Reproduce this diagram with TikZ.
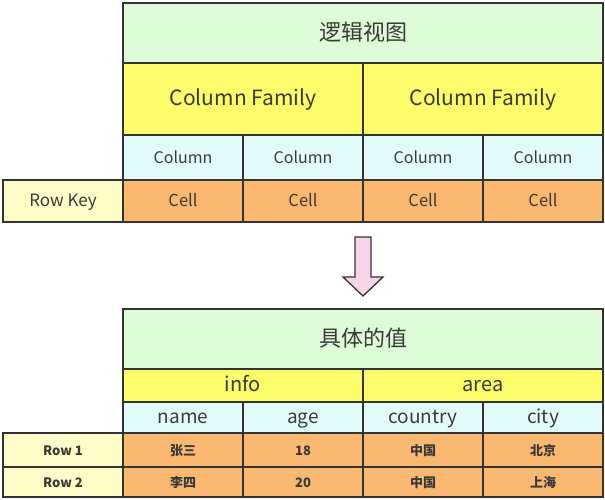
\documentclass[tikz,border=0pt]{standalone}
\usepackage{fontspec}
\setmainfont{Noto Sans CJK SC}
\usepackage{xcolor}
\usepackage{tikz}
\usetikzlibrary{calc}
\usetikzlibrary{positioning}
\definecolor{linec}{HTML}{333333}
\definecolor{textc}{HTML}{3A3A3A}
\definecolor{headg}{HTML}{DCFBD6}
\definecolor{famy}{HTML}{FDFC6A}
\definecolor{colc}{HTML}{E2FCFC}
\definecolor{cello}{HTML}{FBB870}
\definecolor{keyy}{HTML}{FEFDC8}
\definecolor{arrp}{HTML}{F9D3EA}
\tikzstyle{box} = [draw = linec, line width = 1.6pt, text = textc, inner sep = 0, outer sep = 0, text height = 1.1em, text depth = 0em]
\tikzstyle{head} = [box, fill = headg, minimum width = 480pt, text height = 1.5em]
\tikzstyle{fam} = [box, fill = famy, minimum width = 240pt]
\tikzstyle{col} = [box, fill = colc, minimum width = 120pt]
\tikzstyle{cell} = [box, fill = cello, minimum width = 120pt]
\tikzstyle{key} = [box, fill = keyy, minimum width = 120pt]

\begin{document}
\begin{tikzpicture}[x = 1pt, y = -1pt]
\useasboundingbox (0, 0) rectangle (605, 499);
% logical view
\node [head, minimum height = 60pt, font = \fontsize{22}{22}\selectfont] (V) at (363, 33) {逻辑视图};
\node [fam, minimum height = 72pt, text height = 1.35em, font = \fontsize{21}{21}\selectfont] (F1) at (243, 99) {Column Family};
\node [fam, minimum height = 72pt, text height = 1.35em, font = \fontsize{21}{21}\selectfont] (F2) at (483, 99) {Column Family};
\foreach \i/\x in {1/183, 2/303, 3/423, 4/543} {
  \node [col, minimum height = 45pt, font = \fontsize{16}{16}\selectfont] (C\i) at (\x, 157.5) {Column};
  \node [cell, minimum height = 42pt, font = \fontsize{16.5}{16.5}\selectfont] (E\i) at (\x, 201) {Cell};
}
\node [key, minimum height = 42pt, font = \fontsize{17}{17}\selectfont] (K) at (63, 201) {Row Key};
% arrow
\coordinate (T) at (363, 237);
\draw [draw = linec, line width = 1.3pt, fill = arrp, line join = miter]
  (T) ++(-8, 0) -- ++(0, 40) -- ++(-12, 0) -- ++(20, 19) -- ++(20, -19) -- ++(-12, 0) -- ++(0, -40) -- cycle;
% concrete values
\node [head, minimum height = 60pt, font = \fontsize{22}{22}\selectfont] (W) at (363, 339) {具体的值};
\node [fam, minimum height = 33pt, font = \fontsize{20}{20}\selectfont] (G1) at (243, 385.5) {info};
\node [fam, minimum height = 33pt, font = \fontsize{20}{20}\selectfont] (G2) at (483, 385.5) {area};
\foreach \i/\x/\t in {1/183/name, 2/303/age, 3/423/country, 4/543/city} {
  \node [col, minimum height = 31pt, font = \fontsize{19}{19}\selectfont] (D\i) at (\x, 417.5) {\t};
}
\foreach \i/\x/\a/\b in {1/183/张三/李四, 2/303/18/20, 3/423/中国/中国, 4/543/北京/上海} {
  \node [cell, minimum height = 34pt, font = \fontsize{13}{13}\selectfont\bfseries] (P\i) at (\x, 450) {\a};
  \node [cell, minimum height = 30pt, font = \fontsize{13}{13}\selectfont\bfseries] (Q\i) at (\x, 482) {\b};
}
\node [key, minimum height = 34pt, font = \fontsize{13}{13}\selectfont\bfseries] (R1) at (63, 450) {Row 1};
\node [key, minimum height = 30pt, font = \fontsize{13}{13}\selectfont\bfseries] (R2) at (63, 482) {Row 2};
\end{tikzpicture}
\end{document}
